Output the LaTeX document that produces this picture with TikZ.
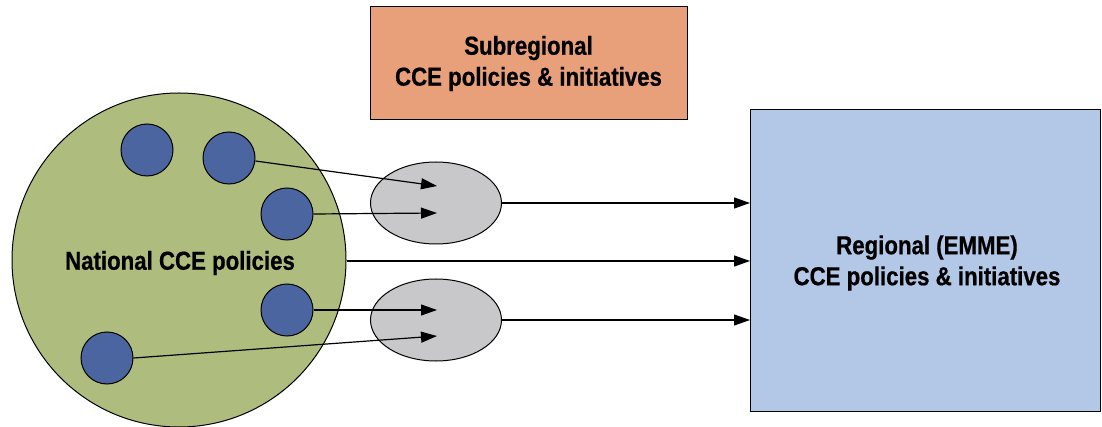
\documentclass[tikz,border=0pt]{standalone}
\usepackage{fontspec}
\newfontfamily\lblfont{Liberation Sans Bold}[FakeStretch=0.855,FakeBold=0.6]
\usetikzlibrary{arrows.meta,shapes.geometric}
\definecolor{subfill}{HTML}{E8A07A}
\definecolor{natfill}{HTML}{AEBD7E}
\definecolor{dotfill}{HTML}{4A65A0}
\definecolor{ellfill}{HTML}{C8C8CA}
\definecolor{regfill}{HTML}{B3C7E6}
\tikzset{
  lbl/.style={font=\lblfont\fontsize{26}{31}\selectfont, align=center, text=black},
  dot/.style={circle, draw=black, line width=1pt, fill=dotfill, minimum size=52pt, inner sep=0pt},
  ell/.style={ellipse, draw=black, line width=1pt, fill=ellfill, minimum width=131pt, minimum height=82pt, inner sep=0pt},
  conn/.style={draw=black, line width=1.2pt, -{Triangle[length=16pt,width=11pt]}}
}
\begin{document}
\begin{tikzpicture}[x=1pt,y=-1pt]
\useasboundingbox (0,0) rectangle (1102,427);
% subregional box
\node[draw=black, line width=1pt, fill=subfill, minimum width=317pt, minimum height=113pt, inner sep=0pt, lbl] (sub) at (528.5,63.5) {Subregional\\CCE policies \& initiatives};
% regional box
\node[draw=black, line width=1pt, fill=regfill, minimum width=350pt, minimum height=301pt, inner sep=0pt] (reg) at (925.5,260.5) {};
\node[lbl] (regt) at (927,263) {Regional (EMME)\\CCE policies \& initiatives};
% national circle
\node[circle, draw=black, line width=1pt, fill=natfill, minimum size=334pt, inner sep=0pt] (nat) at (179,260) {};
\node[lbl] (natt) at (180,263) {National CCE policies};
% small circles
\node[dot] (d1) at (147,150) {};
\node[dot] (d2) at (229,158) {};
\node[dot] (d3) at (287,214) {};
\node[dot] (d4) at (287,310) {};
\node[dot] (d5) at (107,358) {};
% ellipses
\node[ell] (e1) at (436,203) {};
\node[ell] (e2) at (436,320) {};
% arrow targets
\coordinate (t1) at (437,186);
\coordinate (t2) at (437,213);
\coordinate (t3) at (437,310);
\coordinate (t4) at (437,336);
\coordinate (r1) at (750,203);
\coordinate (r2) at (750,261);
\coordinate (r3) at (750,320);
% connectors
\draw[conn] (d2.east) ++(0,3) -- (t1);
\draw[conn] (d3.east) -- (t2);
\draw[conn] (d4.east) -- (t3);
\draw[conn] (d5.east) -- (t4);
\draw[conn] (e1.east) -- (r1);
\draw[conn] (nat.east) ++(0,1) -- (r2);
\draw[conn] (e2.east) -- (r3);
\end{tikzpicture}
\end{document}
